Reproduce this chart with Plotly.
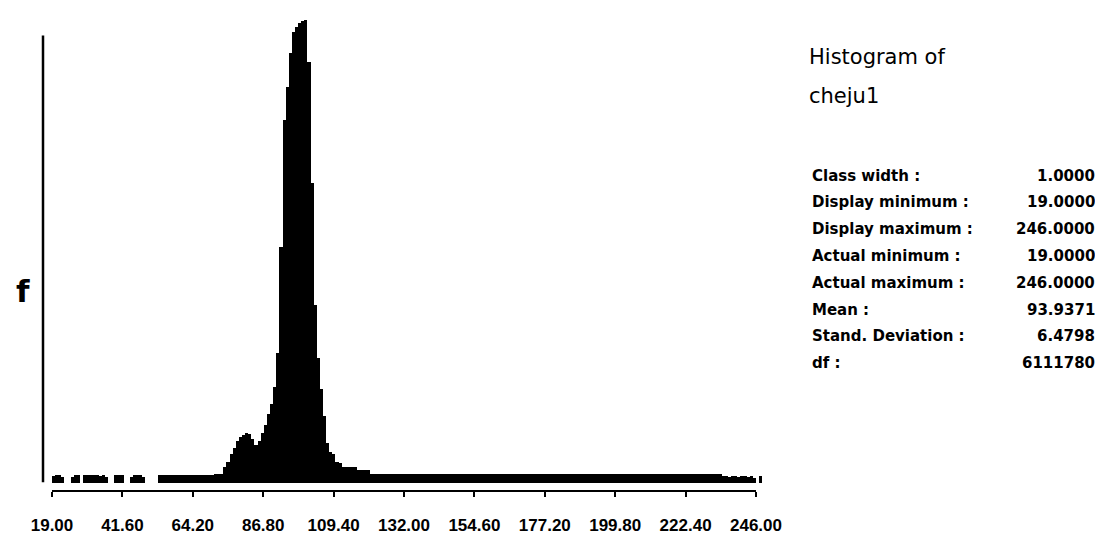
import plotly.graph_objects as go

# ---------------- data ----------------
BIN_START = 19          # first class (class width 1.0)
CLASS_WIDTH = 1.0
# frequency per class, classes 19 .. 246
COUNTS = [
    # 19-28
    6300, 7100, 6800, 5500, 0, 0, 5500, 7100, 6800, 0,
    # 29-38
    7100, 6800, 7100, 7100, 6800, 6300, 7100, 5500, 0, 0,
    # 39-48
    7100, 7100, 6800, 0, 0, 5500, 7100, 7100, 6800, 5500,
    # 49-58
    0, 0, 0, 0, 6800, 7100, 7100, 7000, 7100, 7100,
    # 59-68
    7000, 7100, 7100, 7100, 7000, 7100, 7100, 7100, 7000, 7100,
    # 69-78
    7100, 7100, 7200, 7300, 7900, 13400, 17400, 23700, 29200, 34800,
    # 79-88
    37900, 39500, 41100, 40300, 36300, 31600, 34800, 41100, 47400, 56900,
    # 89-98
    64800, 79000, 106700, 192800, 296300, 323900, 351600, 368900, 372900, 376000,
    # 99-108
    377600, 378400, 343700, 244900, 145400, 102700, 76600, 55300, 33200, 25300,
    # 109-118
    23700, 17400, 16600, 13400, 13400, 13400, 13400, 13400, 11100, 11100,
    # 119-128
    11100, 11100, 7900, 7600, 7500, 7500, 7600, 7500, 7500, 7500,
    # 129-138
    7600, 7500, 7500, 7500, 7600, 7500, 7500, 7500, 7600, 7500,
    # 139-148
    7500, 7500, 7600, 7500, 7500, 7500, 7600, 7500, 7500, 7500,
    # 149-158
    7600, 7500, 7500, 7500, 7600, 7500, 7500, 7500, 7600, 7500,
    # 159-168
    7500, 7500, 7600, 7500, 7500, 7500, 7600, 7500, 7500, 7500,
    # 169-178
    7600, 7500, 7500, 7500, 7600, 7500, 7500, 7500, 7600, 7500,
    # 179-188
    7500, 7500, 7600, 7500, 7500, 7500, 7600, 7500, 7500, 7500,
    # 189-198
    7600, 7500, 7500, 7500, 7600, 7500, 7500, 7500, 7600, 7500,
    # 199-208
    7500, 7500, 7600, 7500, 7500, 7500, 7600, 7500, 7500, 7500,
    # 209-218
    7600, 7500, 7500, 7500, 7600, 7500, 7500, 7500, 7600, 7500,
    # 219-228
    7500, 7500, 7600, 7500, 7500, 7500, 7600, 7500, 7500, 7500,
    # 229-238
    7500, 7400, 7400, 7300, 7200, 6300, 5800, 5500, 6300, 5800,
    # 239-246
    5500, 6300, 5800, 5500, 5800, 4700, 0, 6300,
]
CLASSES = [BIN_START + i for i in range(len(COUNTS))]

TICK_VALUES = [19.0, 41.6, 64.2, 86.8, 109.4, 132.0, 154.6, 177.2, 199.8, 222.4, 245.0]
TICK_LABELS = ["19.00", "41.60", "64.20", "86.80", "109.40", "132.00",
               "154.60", "177.20", "199.80", "222.40", "246.00"]

TITLE_LINES = ["Histogram of", "cheju1"]
STAT_LABELS = ["Class width :", "Display minimum :", "Display maximum :",
               "Actual minimum :", "Actual maximum :", "Mean :",
               "Stand. Deviation :", "df :"]
STAT_VALUES = ["1.0000", "19.0000", "246.0000", "19.0000", "246.0000",
               "93.9371", "6.4798", "6111780"]
Y_LABEL = "f"

# ---------------- layout geometry (pixels) ----------------
W, H = 1103, 537
ML, MR, MT, MB = 35, 343, 10, 38
PW, PH = W - ML - MR, H - MT - MB


def px_x(x):
    return (x - ML) / PW


def px_y(y):
    return (H - MB - y) / PH


fig = go.Figure()
fig.add_trace(go.Bar(
    x=CLASSES, y=COUNTS, width=CLASS_WIDTH, offset=0,
    marker=dict(color="black", line=dict(width=0)),
    hoverinfo="x+y", showlegend=False,
))

annotations = []
annotations.append(dict(text=Y_LABEL, xref="paper", yref="paper",
                        x=px_x(15), y=px_y(292), xanchor="center", yanchor="middle",
                        showarrow=False,
                        font=dict(family="DejaVu Sans", size=31, color="black", weight="bold")))
for i, t in enumerate(TITLE_LINES):
    annotations.append(dict(text=t, xref="paper", yref="paper",
                            x=px_x(799), y=px_y(50 + 41 * i), xanchor="left", yanchor="middle",
                            showarrow=False,
                            font=dict(family="DejaVu Sans", size=21, color="black")))
for i, (lab, val) in enumerate(zip(STAT_LABELS, STAT_VALUES)):
    yy = px_y(173 + 27.7 * i)
    annotations.append(dict(text=lab, xref="paper", yref="paper",
                            x=px_x(802), y=yy, xanchor="left", yanchor="middle",
                            showarrow=False,
                            font=dict(family="DejaVu Sans", size=15, color="black", weight="bold")))
    annotations.append(dict(text=val, xref="paper", yref="paper",
                            x=px_x(1089), y=yy, xanchor="right", yanchor="middle",
                            showarrow=False,
                            font=dict(family="DejaVu Sans", size=15, color="black", weight="bold")))

shapes = [
    # x axis line between first and last tick
    dict(type="line", xref="x", yref="paper", x0=TICK_VALUES[0], x1=TICK_VALUES[-1],
         y0=0, y1=0, line=dict(color="black", width=2)),
    # vertical frequency axis
    dict(type="line", xref="paper", yref="paper", x0=0, x1=0,
         y0=px_y(490), y1=px_y(28), line=dict(color="black", width=2.5)),
]

px_per_unit = 3.115
x0_px = 44
k = 790  # counts per pixel
fig.update_layout(
    width=W, height=H,
    margin=dict(l=ML, r=MR, t=MT, b=MB, pad=0),
    paper_bgcolor="white", plot_bgcolor="white",
    bargap=0,
    xaxis=dict(range=[TICK_VALUES[0] - (x0_px - ML) / px_per_unit,
                      TICK_VALUES[0] + (ML + PW - x0_px) / px_per_unit],
               tickvals=TICK_VALUES, ticktext=TICK_LABELS,
               ticks="outside", ticklen=5, tickwidth=1.5, tickcolor="black",
               ticklabelstandoff=14,
               tickfont=dict(family="Liberation Sans", size=17, color="black", weight="bold"),
               showline=False, showgrid=False, zeroline=False, fixedrange=True),
    yaxis=dict(range=[-8 * k, 481 * k], showticklabels=False, showgrid=False,
               zeroline=False, showline=False, ticks="", fixedrange=True),
    annotations=annotations,
    shapes=shapes,
)

fig.write_html("out.html")
